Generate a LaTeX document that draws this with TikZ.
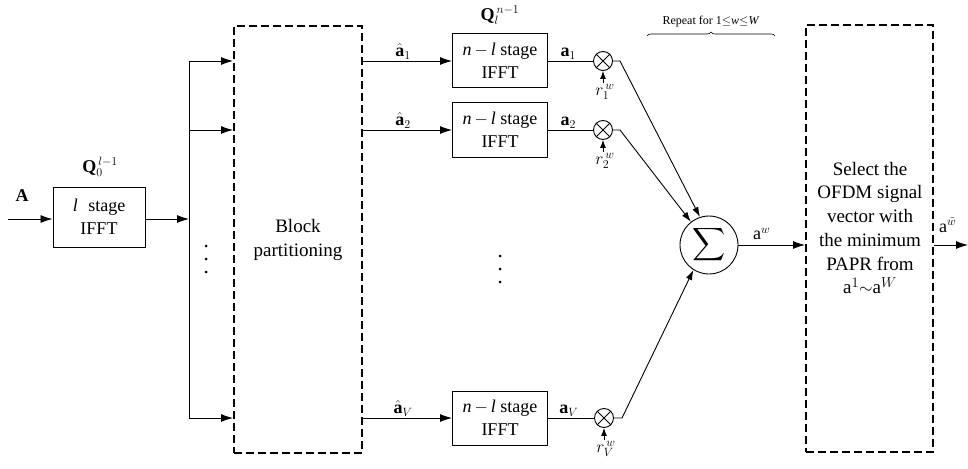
\documentclass[tikz,border=0pt]{standalone}
\usepackage{graphicx}
\usepackage{fontspec}
\setmainfont{Liberation Serif}
\usetikzlibrary{arrows.meta,decorations.pathreplacing}

\begin{document}
\begin{tikzpicture}[x=1pt,y=-1pt,
  wire/.style={line width=0.9pt},
  arr/.style={wire,-{Latex[length=12pt,width=8pt]}},
  sarr/.style={wire,-{Latex[length=10pt,width=6.5pt]}},
  tarr/.style={wire,-{Latex[length=8pt,width=6pt]}},
  fftbox/.style={draw,line width=1pt,minimum width=95pt,minimum height=54pt,
    align=center,inner sep=0pt,font=\fontsize{18}{23}\selectfont},
  dbox/.style={draw,line width=2pt,dash pattern=on 8pt off 4pt,inner sep=0pt},
  mult/.style={draw,circle,line width=0.9pt,minimum size=19pt,inner sep=0pt},
  sumnode/.style={draw,circle,line width=0.9pt,minimum size=58pt,inner sep=0pt},
  lbl/.style={inner sep=1pt,font=\fontsize{18}{20}\selectfont},
  bigtext/.style={align=center,font=\fontsize{19}{23.7}\selectfont},
  vdots/.style={circle,fill,inner sep=0pt,minimum size=3pt}
]
\useasboundingbox (0,0) rectangle (968,468);

% input stage
\coordinate (in) at (8,219);
\node[fftbox,minimum width=92pt,minimum height=60pt] (s0) at (99,217) {\textit{l}\,\, stage\\IFFT};
\node[lbl] (q0) at (100,167) {$\mathbf{Q}_0^{\,l-1}$};
\node[lbl] (A) at (22,196) {\textbf{A}};
\draw[arr] (in) -- (in -| s0.west);
\coordinate (busin) at (189,219);
\draw[arr] (s0.east |- busin) -- (busin);

% distribution bus
\coordinate (bt) at (189,61);
\coordinate (bm) at (189,130);
\coordinate (bb) at (189,418);
\draw[wire] (bt) -- (bb);

% block partitioning
\node[dbox,minimum width=128pt,minimum height=427pt] (blk) at (298,239.5) {};
\node[bigtext] (blkt) at (298,240) {Block\\partitioning};
\draw[arr] (bt) -- (blk.west |- bt);
\draw[arr] (bm) -- (blk.west |- bm);
\draw[arr] (bb) -- (blk.west |- bb);
\foreach \yy [count=\i] in {246,259,272} \node[vdots] (dl\i) at (206,\yy) {};

% branch IFFTs
\node[fftbox] (f1) at (500,61) {\textit{n}\,$-$\,\textit{l} stage\\IFFT};
\node[fftbox] (f2) at (500,130) {\textit{n}\,$-$\,\textit{l} stage\\IFFT};
\node[fftbox] (fV) at (500,418) {\textit{n}\,$-$\,\textit{l} stage\\IFFT};
\node[lbl] (ql) at (500,15) {$\mathbf{Q}_l^{\,n-1}$};
\foreach \yy [count=\i] in {256,269,282} \node[vdots] (dm\i) at (500,\yy) {};

\draw[arr] (blk.east |- f1.west) -- node[lbl,above,pos=0.45] (ah1) {$\hat{\mathbf{a}}_1$} (f1.west);
\draw[arr] (blk.east |- f2.west) -- node[lbl,above,pos=0.45] (ah2) {$\hat{\mathbf{a}}_2$} (f2.west);
\draw[arr] (blk.east |- fV.west) -- node[lbl,above,pos=0.45] (ahV) {$\hat{\mathbf{a}}_V$} (fV.west);

% phase rotation
\node[mult] (m1) at (603,61) {};
\node[mult] (m2) at (603,130) {};
\node[mult] (mV) at (604,418) {};
\foreach \m in {m1,m2,mV} {
  \draw[wire] (\m.45) -- (\m.225);
  \draw[wire] (\m.135) -- (\m.315);
}
\draw[wire] (f1.east) -- node[lbl,above,pos=0.45] (a1) {$\mathbf{a}_1$} (m1.west);
\draw[wire] (f2.east) -- node[lbl,above,pos=0.45] (a2) {$\mathbf{a}_2$} (m2.west);
\draw[wire] (fV.east) -- node[lbl,above,pos=0.45] (aV) {$\mathbf{a}_V$} (mV.west);

\node[lbl,anchor=north] (r1) at (605,83) {$r_1^{\,w}$};
\node[lbl,anchor=north] (r2) at (605,152) {$r_2^{\,w}$};
\node[lbl,anchor=north] (rV) at (606,440) {$r_V^{\,w}$};
\draw[tarr] (r1.north -| m1) -- (m1.south);
\draw[tarr] (r2.north -| m2) -- (m2.south);
\draw[tarr] (rV.north -| mV) -- (mV.south);

% summation
\node[sumnode] (sig) at (709,245) {\scalebox{2.3}{$\displaystyle\sum$}};
\coordinate (j1) at (620,61);
\coordinate (j2) at (620,130);
\coordinate (jV) at (622,418);
\draw[sarr] (m1.east) -- (j1) -- (sig.108);
\draw[sarr] (m2.east) -- (j2) -- (sig.128);
\draw[sarr] (mV.east) -- (jV) -- (sig.238);

% selection
\node[dbox,minimum width=127pt,minimum height=427pt] (sel) at (869.5,238.5) {};
\node[bigtext] (selt) at (870,228) {Select the\\OFDM signal\\vector with\\the minimum\\PAPR from\\a$^{1}$$\sim$a$^{W}$};
\draw[arr] (sig.east) -- node[lbl,above,pos=0.35,yshift=4pt] (aw) {a$^{w}$} (sel.west |- sig.east);
\coordinate (out) at (968,245);
\draw[arr] (sel.east |- out) -- (out);
\node[lbl,anchor=base west] (awt) at (938,232) {a$^{\tilde{w}}$};

% repeat brace
\coordinate (brl) at (647,36);
\coordinate (brr) at (775,36);
\draw[line width=0.6pt,decorate,decoration={brace,amplitude=4pt}] (brl) -- (brr);
\node[inner sep=1pt,font=\fontsize{12}{14}\selectfont] (rep) at (711,22) {Repeat for 1$\leq$\textit{w}$\leq$\textit{W}};
\end{tikzpicture}
\end{document}
